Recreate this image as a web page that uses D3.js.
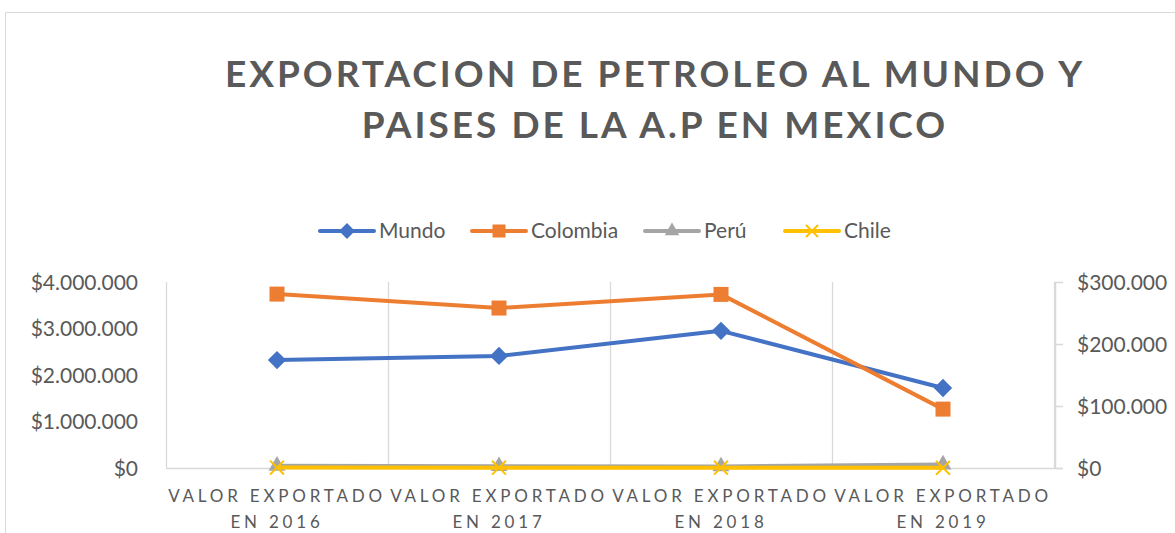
<!DOCTYPE html>
<html>
<head>
<meta charset="utf-8">
<script src="https://cdn.jsdelivr.net/npm/d3@7"></script>
<style>
  body { margin: 0; background: #fff; }
  svg { font-family: Lato, "Open Sans", sans-serif; }
</style>
</head>
<body>
<svg id="chart" width="1175" height="533"></svg>
<script>
// data
let categories = ['2016', '2017', '2018', '2019']
let mundo = [2320000, 2410000, 2950000, 1720000]      // left axis
let colombia = [280500, 258000, 280000, 95000]       // right axis
let peru = [3500, 3000, 2500, 5500]                  // right axis
let chile = [700, 600, 500, 300]                     // right axis
let leftTicks = [0, 1000000, 2000000, 3000000, 4000000]
let rightTicks = [0, 100000, 200000, 300000]
let titleLines = ['EXPORTACION DE PETROLEO AL MUNDO Y', 'PAISES DE LA A.P EN MEXICO']

let series = [
    {name: 'Mundo', values: mundo, color: '#4472C4', marker: 'diamond', axis: 'left'},
    {name: 'Colombia', values: colombia, color: '#ED7D31', marker: 'square', axis: 'right'},
    {name: 'Perú', values: peru, color: '#A5A5A5', marker: 'triangle', axis: 'right'},
    {name: 'Chile', values: chile, color: '#FFC000', marker: 'x', axis: 'right'}
]

let pad_left = 166
let pad_right = 1054
let pad_top = 282
let pad_bottom = 468
let textColor = '#595959'
let gridColor = '#d9d9d9'
let fontFam = 'Lato, "Open Sans", sans-serif'

let svg = d3.select('#chart')

// outer chart border
svg.append('path').attr('d', 'M5.5,533 V12.5 H1175').attr('fill', 'none').attr('stroke', gridColor).attr('stroke-width', 1)

let money = d3.formatLocale({decimal: ',', thousands: '.', grouping: [3], currency: ['$', '']}).format('$,.0f')

let xScale = d3.scaleBand().domain(categories).range([pad_left, pad_right]).padding(0)
let cx = c => xScale(c) + xScale.bandwidth() / 2
let yLeft = d3.scaleLinear().domain([0, 4000000]).range([pad_bottom, pad_top])
let yRight = d3.scaleLinear().domain([0, 300000]).range([pad_bottom, pad_top])

// vertical gridlines at category boundaries
let bounds = categories.map(c => xScale(c)).concat([pad_right])
svg.append('g').selectAll('line').data(bounds).join('line')
    .attr('x1', d => Math.round(d) + 0.5).attr('x2', d => Math.round(d) + 0.5)
    .attr('y1', pad_top).attr('y2', pad_bottom)
    .attr('stroke', gridColor).attr('stroke-width', 1.3)

// bottom axis line
svg.append('line').attr('x1', pad_left).attr('x2', pad_right + 8)
    .attr('y1', pad_bottom + 0.5).attr('y2', pad_bottom + 0.5)
    .attr('stroke', gridColor).attr('stroke-width', 1.5)

// left axis
let leftAxis = d3.axisLeft(yLeft).tickValues(leftTicks).tickFormat(money).tickSize(0).tickPadding(28)
let gl = svg.append('g').attr('transform', 'translate(' + pad_left + ',0)').call(leftAxis)
    .attr('font-family', fontFam).attr('font-size', 21)
gl.select('.domain').remove()
gl.selectAll('text').attr('fill', textColor).attr('dy', '0.35em')

// right axis
let rightAxis = d3.axisRight(yRight).tickValues(rightTicks).tickFormat(money).tickSizeInner(8).tickSizeOuter(0).tickPadding(14)
let gr = svg.append('g').attr('transform', 'translate(' + (pad_right + 1) + ',0)').call(rightAxis)
    .attr('font-family', fontFam).attr('font-size', 21)
gr.select('.domain').attr('stroke', gridColor).attr('stroke-width', 1.5)
gr.selectAll('.tick line').attr('stroke', gridColor).attr('stroke-width', 1.5)
gr.selectAll('text').attr('fill', textColor).attr('dy', '0.35em')

// category labels
let xl = svg.append('g').selectAll('text').data(categories).join('text')
    .attr('x', d => cx(d)).attr('y', 502)
    .attr('text-anchor', 'middle').attr('fill', textColor)
    .style('font-size', '17px').style('letter-spacing', '3.8px')
xl.append('tspan').attr('x', d => cx(d)).text('VALOR EXPORTADO')
xl.append('tspan').attr('x', d => cx(d)).attr('dy', 26).text(d => 'EN ' + d)

function markerPath(type, size){
    if (type === 'diamond') return d3.symbol(d3.symbolDiamond2, size * size * 0.95)()
    if (type === 'square') return d3.symbol(d3.symbolSquare, size * size)()
    if (type === 'triangle') return d3.symbol(d3.symbolTriangle, size * size * 0.55)()
    return d3.symbol(d3.symbolX, size * size * 0.5)()
}

// lines and markers
for (let s of series){
    let y = s.axis === 'left' ? yLeft : yRight
    let pts = categories.map((c, i) => ({x: cx(c), y: y(s.values[i])}))
    svg.append('path').datum(pts)
        .attr('fill', 'none').attr('stroke', s.color).attr('stroke-width', 4).attr('stroke-linejoin', 'round')
        .attr('d', d3.line().x(d => d.x).y(d => d.y))
    let g = svg.append('g')
    g.selectAll('path').data(pts).join('path')
        .attr('transform', d => 'translate(' + d.x + ',' + d.y + ')')
        .attr('d', markerPath(s.marker, s.marker === 'x' ? 16 : 15))
        .attr('fill', s.marker === 'x' ? 'none' : s.color)
        .attr('stroke', s.marker === 'x' ? s.color : 'none')
        .attr('stroke-width', 2)
}

// legend
let legendX = [320, 472, 645, 785]
let legend = svg.append('g').selectAll('g').data(series).join('g')
    .attr('transform', (d, i) => 'translate(' + legendX[i] + ',231)')
legend.append('line').attr('x1', 0).attr('x2', 54).attr('stroke', d => d.color).attr('stroke-width', 4).attr('stroke-linecap', 'round')
legend.append('path').attr('transform', 'translate(27,0)')
    .attr('d', d => markerPath(d.marker, d.marker === 'x' ? 14 : 13))
    .attr('fill', d => d.marker === 'x' ? 'none' : d.color)
    .attr('stroke', d => d.marker === 'x' ? d.color : 'none').attr('stroke-width', 2)
legend.append('text').attr('x', 59).attr('dy', '0.35em').text(d => d.name)
    .attr('fill', textColor).style('font-size', '21px')

// title
svg.append('g').selectAll('text').data(titleLines).join('text')
    .attr('x', 655).attr('y', (d, i) => 87 + i * 51)
    .attr('text-anchor', 'middle').attr('fill', textColor)
    .style('font-size', '37px').style('font-weight', 'bold').style('letter-spacing', '3px')
    .text(d => d)
</script>
</body>
</html>
